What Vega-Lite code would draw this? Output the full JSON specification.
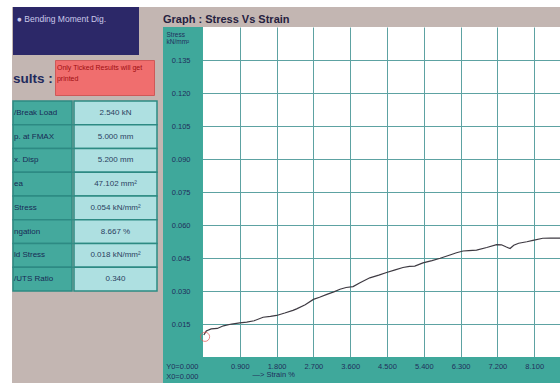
{
  "$schema": "https://vega.github.io/schema/vega-lite/v6.json",
  "background": "#c3b6b2",
  "padding": 0,
  "autosize": {"type": "pad"},
  "config": {
    "view": {"stroke": null},
    "concat": {"spacing": 0},
    "font": "Liberation Sans, Arial, sans-serif"
  },
  "datasets": {
    "curve": [
      {"strain": 0.02, "stress": 0.0100},
      {"strain": 0.08, "stress": 0.0118},
      {"strain": 0.2, "stress": 0.0128},
      {"strain": 0.35, "stress": 0.0130},
      {"strain": 0.5, "stress": 0.0142},
      {"strain": 0.7, "stress": 0.0150},
      {"strain": 0.9, "stress": 0.0155},
      {"strain": 1.07, "stress": 0.0159},
      {"strain": 1.25, "stress": 0.0165},
      {"strain": 1.47, "stress": 0.0181},
      {"strain": 1.65, "stress": 0.0185},
      {"strain": 1.8, "stress": 0.0189},
      {"strain": 2.0, "stress": 0.0200},
      {"strain": 2.2, "stress": 0.0212},
      {"strain": 2.29, "stress": 0.0219},
      {"strain": 2.5, "stress": 0.0238},
      {"strain": 2.7, "stress": 0.0262},
      {"strain": 2.85, "stress": 0.0272},
      {"strain": 3.03, "stress": 0.0285},
      {"strain": 3.2, "stress": 0.0296},
      {"strain": 3.35, "stress": 0.0308},
      {"strain": 3.5, "stress": 0.0316},
      {"strain": 3.67, "stress": 0.0320},
      {"strain": 3.84, "stress": 0.0338},
      {"strain": 4.08, "stress": 0.0360},
      {"strain": 4.3, "stress": 0.0372},
      {"strain": 4.49, "stress": 0.0384},
      {"strain": 4.7, "stress": 0.0396},
      {"strain": 4.89, "stress": 0.0407},
      {"strain": 5.05, "stress": 0.0412},
      {"strain": 5.18, "stress": 0.0413},
      {"strain": 5.38, "stress": 0.0428},
      {"strain": 5.6, "stress": 0.0438},
      {"strain": 5.8, "stress": 0.0449},
      {"strain": 6.04, "stress": 0.0464},
      {"strain": 6.2, "stress": 0.0474},
      {"strain": 6.36, "stress": 0.0482},
      {"strain": 6.5, "stress": 0.0484},
      {"strain": 6.69, "stress": 0.0486},
      {"strain": 6.94, "stress": 0.0498},
      {"strain": 7.18, "stress": 0.0511},
      {"strain": 7.3, "stress": 0.0510},
      {"strain": 7.42, "stress": 0.0500},
      {"strain": 7.51, "stress": 0.0493},
      {"strain": 7.6, "stress": 0.0508},
      {"strain": 7.72, "stress": 0.0517},
      {"strain": 7.92, "stress": 0.0524},
      {"strain": 8.07, "stress": 0.0530},
      {"strain": 8.31, "stress": 0.0540},
      {"strain": 8.5, "stress": 0.0541},
      {"strain": 8.65, "stress": 0.0540},
      {"strain": 8.8, "stress": 0.0540}
    ],
    "results": [
      {"label": "/Break Load", "value": "2.540 kN"},
      {"label": "p. at FMAX", "value": "5.000 mm"},
      {"label": "x. Disp", "value": "5.200 mm"},
      {"label": "ea", "value": "47.102 mm²"},
      {"label": " Stress", "value": "0.054 kN/mm²"},
      {"label": "ngation", "value": "8.667 %"},
      {"label": "ld Stress", "value": "0.018 kN/mm²"},
      {"label": "/UTS Ratio", "value": "0.340"}
    ]
  },
  "vconcat": [
    {
      "width": 560, "height": 7,
      "view": {"fill": "white", "stroke": null},
      "data": {"values": [{}]},
      "mark": {"type": "text", "text": "", "fontSize": 1, "clip": true}
    },
    {
      "hconcat": [
        {
          "width": 12, "height": 376,
          "view": {"fill": "white", "stroke": null},
          "data": {"values": [{}]},
          "mark": {"type": "text", "text": "", "fontSize": 1, "clip": true}
        },
        {
          "spacing": 4,
          "vconcat": [
            {
              "width": 126, "height": 48,
              "view": {"fill": "#2c2868", "stroke": null},
              "data": {"values": [{"option": "●  Bending Moment Dig."}]},
              "mark": {"type": "text", "color": "#cbc8ea", "fontSize": 8.5, "align": "left", "baseline": "middle", "clip": true},
              "encoding": {
                "text": {"field": "option"},
                "x": {"field": "option", "type": "nominal", "axis": null, "scale": {"type": "point", "padding": 0, "align": 0.03}},
                "y": {"field": "option", "type": "nominal", "axis": null, "scale": {"type": "point", "padding": 0, "align": 0.25}}
              }
            },
            {
              "hconcat": [
                {
                  "width": 41, "height": 35,
                  "data": {"values": [{"t": "sults :"}]},
                  "mark": {"type": "text", "color": "#1f2a5c", "fontSize": 13.5, "fontWeight": "bold", "align": "left", "baseline": "middle", "clip": true},
                  "encoding": {
                    "text": {"field": "t"},
                    "x": {"field": "t", "type": "nominal", "axis": null, "scale": {"type": "point", "padding": 0, "align": 0}},
                    "y": {"field": "t", "type": "nominal", "axis": null, "scale": {"type": "point", "padding": 0, "align": 0.55}}
                  }
                },
                {
                  "width": 99, "height": 35,
                  "view": {"fill": "#f06e6e", "stroke": "#cf5858"},
                  "data": {"values": [{"note": "Only Ticked Results will get\nprinted"}]},
                  "mark": {"type": "text", "color": "#a00f12", "fontSize": 7, "align": "left", "baseline": "top", "lineBreak": "\n", "lineHeight": 11, "clip": true},
                  "encoding": {
                    "text": {"field": "note"},
                    "x": {"field": "note", "type": "nominal", "axis": null, "scale": {"type": "point", "padding": 0, "align": 0.02}},
                    "y": {"field": "note", "type": "nominal", "axis": null, "scale": {"type": "point", "padding": 0, "align": 0.12}}
                  }
                },
                {
                  "width": 8, "height": 35,
                  "data": {"values": [{}]},
                  "mark": {"type": "text", "text": "", "fontSize": 1, "clip": true}
                }
              ]
            },
            {
              "hconcat": [
                {
                  "width": 59, "height": 190,
                  "data": {"name": "results"},
                  "layer": [
                    {
                      "mark": {"type": "rect", "fill": "#44a99d", "stroke": "#2d8a83", "strokeWidth": 1.5},
                      "encoding": {
                        "y": {"field": "label", "type": "nominal", "sort": null, "axis": null, "scale": {"type": "band", "paddingInner": 0, "paddingOuter": 0}}
                      }
                    },
                    {
                      "mark": {"type": "text", "color": "#182a55", "fontSize": 8, "align": "left", "baseline": "middle", "dx": 1, "clip": true},
                      "encoding": {
                        "x": {"datum": 0, "type": "quantitative", "scale": {"domain": [0, 1]}, "axis": null},
                        "y": {"field": "label", "type": "nominal", "sort": null, "axis": null, "scale": {"type": "band", "paddingInner": 0, "paddingOuter": 0}},
                        "text": {"field": "label"}
                      }
                    }
                  ]
                },
                {
                  "width": 83, "height": 190,
                  "data": {"name": "results"},
                  "layer": [
                    {
                      "mark": {"type": "rect", "fill": "#aee0e1", "stroke": "#2d8a83", "strokeWidth": 1.5},
                      "encoding": {
                        "y": {"field": "label", "type": "nominal", "sort": null, "axis": null, "scale": {"type": "band", "paddingInner": 0, "paddingOuter": 0}}
                      }
                    },
                    {
                      "mark": {"type": "text", "color": "#2a3f5f", "fontSize": 8, "align": "center", "baseline": "middle", "clip": true},
                      "encoding": {
                        "y": {"field": "label", "type": "nominal", "sort": null, "axis": null, "scale": {"type": "band", "paddingInner": 0, "paddingOuter": 0}},
                        "text": {"field": "value"}
                      }
                    }
                  ]
                }
              ]
            }
          ]
        },
        {
          "vconcat": [
            {
              "width": 397, "height": 20,
              "data": {"values": [{"g": "Graph :  Stress Vs Strain"}]},
              "mark": {"type": "text", "color": "#26213f", "fontSize": 11, "fontWeight": "bold", "align": "left", "baseline": "alphabetic", "clip": true},
              "encoding": {
                "text": {"field": "g"},
                "x": {"field": "g", "type": "nominal", "axis": null, "scale": {"type": "point", "padding": 0, "align": 0}},
                "y": {"field": "g", "type": "nominal", "axis": null, "scale": {"type": "point", "padding": 0, "align": 0.78}}
              }
            },
            {
              "width": 397, "height": 356,
              "view": {"fill": "white", "stroke": null},
              "resolve": {"axis": {"x": "independent", "y": "independent"}},
              "layer": [
                {
                  "data": {"name": "curve"},
                  "mark": {"type": "line", "color": "#3e3a42", "strokeWidth": 1.2, "clip": true},
                  "encoding": {
                    "x": {"field": "strain", "type": "quantitative",
                      "scale": {"domain": [-0.978, 8.731], "nice": false, "zero": false},
                      "axis": {"orient": "bottom", "values": [0.9, 1.8, 2.7, 3.6, 4.5, 5.4, 6.3, 7.2, 8.1], "grid": true, "gridColor": "#5da2a2", "gridWidth": 1, "labels": false, "ticks": false, "domain": false, "title": null, "zindex": 0}},
                    "y": {"field": "stress", "type": "quantitative",
                      "scale": {"domain": [-0.0118, 0.15], "nice": false, "zero": false},
                      "axis": {"orient": "left", "values": [0.015, 0.03, 0.045, 0.06, 0.075, 0.09, 0.105, 0.12, 0.135], "grid": true, "gridColor": "#5da2a2", "gridWidth": 1, "labels": false, "ticks": false, "domain": false, "title": null, "zindex": 0}}
                  }
                },
                {
                  "data": {"values": [{}]},
                  "mark": {"type": "rect", "color": "#3fa89b", "clip": true},
                  "encoding": {
                    "x": {"datum": -2, "type": "quantitative", "scale": {"domain": [-0.978, 8.731], "nice": false, "zero": false}, "axis": null},
                    "x2": {"datum": 0}
                  }
                },
                {
                  "data": {"values": [{}]},
                  "mark": {"type": "rect", "color": "#3fa89b", "clip": true},
                  "encoding": {
                    "y": {"datum": -1, "type": "quantitative", "scale": {"domain": [-0.0118, 0.15], "nice": false, "zero": false}, "axis": null},
                    "y2": {"datum": 0}
                  }
                },
                {
                  "data": {"values": [{"strain": 0.05, "stress": 0.0092}]},
                  "mark": {"type": "point", "shape": "circle", "filled": false, "color": "#e25454", "size": 85, "strokeWidth": 1, "clip": true},
                  "encoding": {
                    "x": {"field": "strain", "type": "quantitative",
                      "scale": {"domain": [-0.978, 8.731], "nice": false, "zero": false},
                      "axis": {"orient": "bottom", "offset": -26, "values": [0, 0.9, 1.8, 2.7, 3.6, 4.5, 5.4, 6.3, 7.2, 8.1],
                        "grid": false, "ticks": false, "domain": false, "zindex": 1,
                        "labelExpr": "datum.value == 0 ? ['Y0=0.000', 'X0=0.000'] : format(datum.value, '.3f')",
                        "labelAlign": {"condition": {"test": "datum.value == 0", "value": "right"}, "value": "center"},
                        "labelOffset": {"condition": {"test": "datum.value == 0", "value": -5}, "value": 0},
                        "labelFontSize": 7.5, "labelColor": "#1f2f5c", "labelPadding": 5, "labelBaseline": "top", "labelLineHeight": 10,
                        "labelFlush": false, "labelOverlap": false, "labelBound": false,
                        "title": "—> Strain  %", "titleX": 89, "titleY": 13, "titleAlign": "left", "titleBaseline": "top",
                        "titleFontSize": 7.5, "titleFontWeight": "normal", "titleColor": "#1f2f5c"}},
                    "y": {"field": "stress", "type": "quantitative",
                      "scale": {"domain": [-0.0118, 0.15], "nice": false, "zero": false},
                      "axis": {"orient": "left", "offset": -40, "values": [0.015, 0.03, 0.045, 0.06, 0.075, 0.09, 0.105, 0.12, 0.135],
                        "grid": false, "ticks": false, "domain": false, "zindex": 1, "format": ".3f",
                        "labelFontSize": 7.5, "labelColor": "#1f2f5c", "labelPadding": 13, "labelAlign": "right", "labelBaseline": "middle",
                        "labelFlush": false, "labelOverlap": false,
                        "title": ["Stress", "kN/mm²"], "titleAngle": 0, "titleX": -37, "titleY": 4, "titleAlign": "left", "titleBaseline": "top",
                        "titleFontSize": 6.5, "titleLineHeight": 7, "titleFontWeight": "normal", "titleColor": "#1f2f5c"}}
                  }
                }
              ]
            }
          ]
        }
      ]
    }
  ]
}
